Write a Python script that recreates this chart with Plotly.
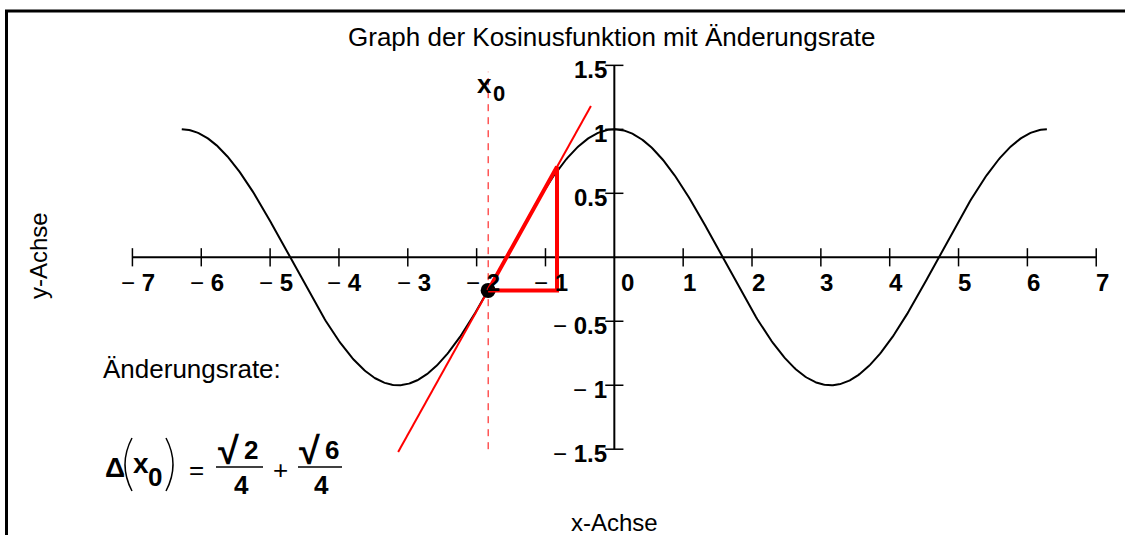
import numpy as np
import plotly.graph_objects as go

# ---- content -------------------------------------------------------------
# cosine over two full periods
x_curve = np.linspace(-2 * np.pi, 2 * np.pi, 721)
y_curve = np.cos(x_curve)

# point x0 and the rate of change there:  Δ(x0) = √2/4 + √6/4
X0 = -7 * np.pi / 12
RATE = np.sqrt(2) / 4 + np.sqrt(6) / 4
Y0 = np.cos(X0)

# extent of the drawn tangent
tangent_x = [-3.14, -0.34]

x_ticks = [-7, -6, -5, -4, -3, -2, -1, 0, 1, 2, 3, 4, 5, 6, 7]
x_tick_labels = ["− 7", "− 6", "− 5", "− 4", "− 3", "− 2", "− 1",
                 "0", "1", "2", "3", "4", "5", "6", "7"]
y_ticks = [-1.5, -1, -0.5, 0.5, 1, 1.5]
y_tick_labels = ["− 1.5", "− 1", "− 0.5", "0.5", "1", "1.5"]

TITLE = "Graph der Kosinusfunktion mit Änderungsrate"
X_TITLE = "x-Achse"
Y_TITLE = "y-Achse"
RATE_CAPTION = "Änderungsrate:"

# ---- layout helpers --------------------------------------------------------
W, H = 1125, 535
ML, MR, MT, MB = 98, 15, 50, 73
PW, PH = W - ML - MR, H - MT - MB
FONT = "Liberation Sans, Arial, sans-serif"
TICK_SIZE = 24


def px(x):
    return (x - ML) / PW


def py(y):
    return 1 - (y - MT) / PH


def label(text):
    """Regular minus sign, bold number."""
    if text.startswith("− "):
        return "− <b>" + text[2:] + "</b>"
    return "<b>" + text + "</b>"


fig = go.Figure()

# cosine graph
fig.add_trace(go.Scatter(x=x_curve, y=y_curve, mode="lines",
                         line=dict(color="black", width=2), hoverinfo="skip"))

# dashed guide at x0
fig.add_trace(go.Scatter(x=[X0, X0], y=[-1.5, 1.45], mode="lines",
                         line=dict(color="red", width=1, dash="7px,6px"),
                         hoverinfo="skip"))

# tangent at x0
tangent_y = [Y0 + RATE * (t - X0) for t in tangent_x]
fig.add_trace(go.Scatter(x=tangent_x, y=tangent_y, mode="lines",
                         line=dict(color="red", width=2), hoverinfo="skip"))

# point on the curve
fig.add_trace(go.Scatter(x=[X0], y=[Y0], mode="markers",
                         marker=dict(color="black", size=15), hoverinfo="skip"))

# slope triangle (run 1, rise = rate)
fig.add_trace(go.Scatter(x=[X0, X0 + 1, X0 + 1, X0],
                         y=[Y0, Y0, Y0 + RATE, Y0], mode="lines",
                         line=dict(color="red", width=4), hoverinfo="skip"))

# tick marks crossing the axes
fig.add_trace(go.Scatter(x=[t for t in x_ticks if t != 0],
                         y=[0] * (len(x_ticks) - 1), mode="markers",
                         marker=dict(symbol="line-ns", size=13,
                                     line=dict(color="black", width=1.5)),
                         hoverinfo="skip"))
fig.add_trace(go.Scatter(x=[0] * len(y_ticks), y=y_ticks, mode="markers",
                         marker=dict(symbol="line-ew", size=13,
                                     line=dict(color="black", width=1.5)),
                         hoverinfo="skip"))

shapes = [
    # axes through the origin
    dict(type="line", xref="x", yref="y", x0=x_ticks[0], x1=x_ticks[-1],
         y0=0, y1=0, line=dict(color="black", width=2), layer="below"),
    dict(type="line", xref="x", yref="y", x0=0, x1=0,
         y0=y_ticks[0], y1=y_ticks[-1], line=dict(color="black", width=2),
         layer="below"),
    # outer frame
    dict(type="rect", xref="paper", yref="paper", x0=px(6.5), x1=px(1300),
         y0=py(11), y1=py(700), line=dict(color="black", width=3)),
    # fraction bars
    dict(type="line", xref="paper", yref="paper", x0=px(216), x1=px(263),
         y0=py(467), y1=py(467), line=dict(color="black", width=1.5)),
    dict(type="line", xref="paper", yref="paper", x0=px(298), x1=px(342),
         y0=py(467), y1=py(467), line=dict(color="black", width=1.5)),
    # tall parentheses around x0
    dict(type="path", xref="paper", yref="paper",
         path=f"M {px(132)} {py(438)} Q {px(118)} {py(464.5)} {px(132)} {py(491)}",
         line=dict(color="black", width=1.5)),
    dict(type="path", xref="paper", yref="paper",
         path=f"M {px(166)} {py(438)} Q {px(180)} {py(464.5)} {px(166)} {py(491)}",
         line=dict(color="black", width=1.5)),
]

ann = []
for v, t in zip(x_ticks, x_tick_labels):
    ann.append(dict(x=v, y=0, xref="x", yref="y", text=label(t),
                    showarrow=False, xanchor="center", yanchor="middle",
                    xshift=13 if v == 0 else 6, yshift=-25,
                    font=dict(size=TICK_SIZE, family=FONT, color="black")))
for v, t in zip(y_ticks, y_tick_labels):
    ann.append(dict(x=0, y=v, xref="x", yref="y", text=label(t),
                    showarrow=False, xanchor="right", yanchor="middle",
                    xshift=-5, yshift=-4,
                    font=dict(size=TICK_SIZE, family=FONT, color="black")))


def text_at(x, y, text, size, bold=False, xanchor="center", angle=0):
    ann.append(dict(x=px(x), y=py(y), xref="paper", yref="paper",
                    text=f"<b>{text}</b>" if bold else text, showarrow=False,
                    xanchor=xanchor, yanchor="middle", textangle=angle,
                    font=dict(size=size, family=FONT, color="black")))


text_at(612, 37, TITLE, 26)
text_at(614, 522, X_TITLE, 24)
text_at(38, 256, Y_TITLE, 24, angle=-90)
text_at(101, 369, RATE_CAPTION, 26, xanchor="left")

# x0 marker label
text_at(484, 84, "x", 26, bold=True)
text_at(498.5, 94, "0", 22, bold=True)

# Δ(x0) = √2/4 + √6/4
text_at(115, 467, "Δ", 28, bold=True)
text_at(140.5, 463, "x", 28, bold=True)
text_at(155, 477, "0", 26, bold=True)
text_at(196.5, 470, "=", 26)
text_at(228, 451, "√", 38, bold=True)
text_at(251, 450, "2", 26, bold=True)
text_at(241.5, 485, "4", 26, bold=True)
text_at(280, 470, "+", 26)
text_at(309, 451, "√", 38, bold=True)
text_at(332, 450, "6", 26, bold=True)
text_at(321, 485, "4", 26, bold=True)

fig.update_layout(
    width=W, height=H,
    margin=dict(l=ML, r=MR, t=MT, b=MB, pad=0),
    paper_bgcolor="white", plot_bgcolor="white",
    showlegend=False,
    xaxis=dict(range=[-7.5, 7.2], visible=False, fixedrange=True),
    yaxis=dict(range=[-1.6, 1.62], visible=False, fixedrange=True),
    shapes=shapes, annotations=ann,
)

fig.write_html("out.html", config={"displayModeBar": False})
